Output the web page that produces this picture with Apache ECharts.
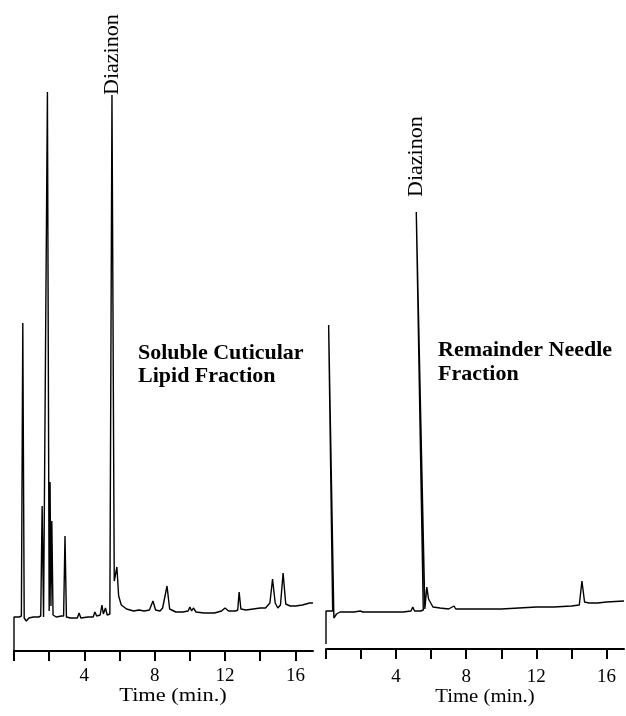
<!DOCTYPE html>
<html>
<head>
<meta charset="utf-8">
<script src="https://cdn.jsdelivr.net/npm/echarts@6/dist/echarts.min.js"></script>
<style>
html,body{margin:0;padding:0;background:#fff;}
#chart{width:626px;height:716px;}
</style>
</head>
<body>
<div id="chart"></div>
<script>
// ---- data ----
const tickValues = [0, 2, 4, 6, 8, 10, 12, 14, 16];
const labelValues = [4, 8, 12, 16];
const axisTitle = 'Time (min.)';
const peakName = 'Diazinon';
const leftTitle = 'Soluble Cuticular\nLipid Fraction';
const rightTitle = 'Remainder Needle\nFraction';

// Soluble cuticular lipid fraction (time in min, detector response in arbitrary units)
const leftTime = [0, 0, 0.3, 0.42, 0.5, 0.58, 0.7, 0.85, 1.1, 1.4, 1.52, 1.6, 1.68, 1.78, 1.9, 2.0, 2.05, 2.1, 2.15, 2.22,
  2.4, 2.7, 2.82, 2.9, 2.98, 3.2, 3.6, 3.7, 3.8, 4.2, 4.5, 4.6, 4.7, 4.9, 5.0, 5.08, 5.2, 5.3, 5.45, 5.57,
  5.7, 5.85, 5.95, 6.1, 6.4, 6.8, 7.1, 7.4, 7.7, 7.9, 8.05, 8.3, 8.45, 8.55, 8.7, 8.85, 9.2, 9.6, 9.9, 10.0,
  10.1, 10.2, 10.35, 10.8, 11.4, 11.8, 12.0, 12.2, 12.6, 12.72, 12.8, 12.9, 13.2, 13.6, 14.0, 14.1, 14.3, 14.55, 14.7, 14.85,
  15.0, 15.15, 15.3, 15.45, 15.7, 16.0, 16.4, 16.8, 17.0];
const leftSignal = [0, 34, 34, 35, 328, 33, 30, 33, 34, 34, 35, 145, 34, 33, 559, 40, 169, 45, 130, 36,
  34, 35, 35, 115, 34, 33, 33, 38, 33, 34, 34, 39, 35, 36, 46, 37, 43, 36, 37, 556,
  70, 84, 55, 46, 42, 40, 41, 40, 41, 50, 41, 40, 43, 41, 65, 42, 39, 39, 40, 44,
  40, 43, 39, 38, 38, 40, 43, 40, 40, 41, 59, 42, 41, 42, 43, 45, 43, 48, 72, 48,
  43, 46, 78, 47, 45, 45, 46, 48, 48];

// Remainder needle fraction
const rightTime = [0, 0, 0.38, 0.15, 0.45, 0.6, 0.8, 1.2, 1.6, 1.95, 2.0, 2.1, 2.6, 3.2, 3.8, 4.4, 4.85, 4.95, 5.05, 5.4,
  5.55, 5.15, 5.64, 5.75, 5.85, 6.1, 6.5, 7.0, 7.3, 7.4, 8.0, 9.0, 10.0, 11.0, 12.0, 13.0, 14.0, 14.45, 14.6, 14.75,
  15.0, 15.5, 16.0, 17.0];
const rightSignal = [5, 38, 38, 324, 31, 35, 37, 37, 37, 38, 40, 37, 37, 37, 37, 37, 38, 42, 38, 38,
  39, 437, 40, 62, 50, 42, 41, 40, 43, 40, 40, 40, 40, 41, 42, 42, 43, 44, 68, 47,
  46, 46, 47, 48];

// ---- build ----
function zip(a, b) { return a.map((v, i) => [v, b[i]]); }
function apexBetween(t, s, lo, hi) {
  let best = -1;
  for (let i = 0; i < t.length; i++) {
    if (t[i] >= lo && t[i] <= hi && (best < 0 || s[i] > s[best])) best = i;
  }
  return [t[best], s[best]];
}

const serif = '"Liberation Serif", "Times New Roman", serif';
const chart = echarts.init(document.getElementById('chart'), null, { renderer: 'canvas' });

function xAxisFor(gridIndex, margin) {
  return {
    type: 'value', gridIndex: gridIndex, min: 0, max: 17, interval: 2,
    axisLine: { show: true, onZero: false, lineStyle: { color: '#000', width: 2 } },
    axisTick: { show: true, length: 10, inside: false, customValues: tickValues, lineStyle: { color: '#000', width: 2 } },
    axisLabel: { show: true, customValues: labelValues, margin: margin, color: '#000', fontFamily: serif, fontSize: 19 },
    splitLine: { show: false }
  };
}
function yAxisFor(gridIndex) {
  return { type: 'value', gridIndex: gridIndex, min: 0, max: 600, show: false, splitLine: { show: false } };
}
function labelFor(distance, offsetX) {
  return {
    show: true, formatter: peakName, position: 'top', distance: distance, rotate: 90,
    align: 'left', verticalAlign: 'middle', offset: [offsetX, 0],
    color: '#000', fontFamily: serif, fontSize: 22
  };
}

chart.setOption({
  animation: false,
  backgroundColor: '#fff',
  grid: [
    { left: 14, top: 51, width: 299, height: 600 },
    { left: 326, top: 49, width: 298, height: 600 }
  ],
  xAxis: [xAxisFor(0, 16), xAxisFor(1, 19)],
  yAxis: [yAxisFor(0), yAxisFor(1)],
  series: [
    {
      type: 'line', xAxisIndex: 0, yAxisIndex: 0, data: zip(leftTime, leftSignal),
      showSymbol: false, symbol: 'none', clip: false,
      lineStyle: { color: '#000', width: 1.4 },
      markPoint: {
        symbol: 'circle', symbolSize: 0, silent: true,
        label: labelFor(5, -5),
        data: [{ coord: apexBetween(leftTime, leftSignal, 5, 6) }]
      }
    },
    {
      type: 'line', xAxisIndex: 1, yAxisIndex: 1, data: zip(rightTime, rightSignal),
      showSymbol: false, symbol: 'none', clip: false,
      lineStyle: { color: '#000', width: 1.4 },
      markPoint: {
        symbol: 'circle', symbolSize: 0, silent: true,
        label: labelFor(14, 1),
        data: [{ coord: apexBetween(rightTime, rightSignal, 5, 6) }]
      }
    }
  ],
  graphic: [
    { type: 'text', x: 138, y: 341.8, style: { text: leftTitle, font: 'bold 22px ' + serif, lineHeight: 23, fill: '#000', align: 'left', verticalAlign: 'top' } },
    { type: 'text', x: 438, y: 338.3, style: { text: rightTitle, font: 'bold 22px ' + serif, lineHeight: 24, fill: '#000', align: 'left', verticalAlign: 'top' } },
    { type: 'text', x: 173, y: 696.2, scaleX: 1.18, style: { text: axisTitle, font: '19px ' + serif, fill: '#000', align: 'center', verticalAlign: 'middle' } },
    { type: 'text', x: 485, y: 697.2, scaleX: 1.09, style: { text: axisTitle, font: '19px ' + serif, fill: '#000', align: 'center', verticalAlign: 'middle' } }
  ]
});
</script>
</body>
</html>
